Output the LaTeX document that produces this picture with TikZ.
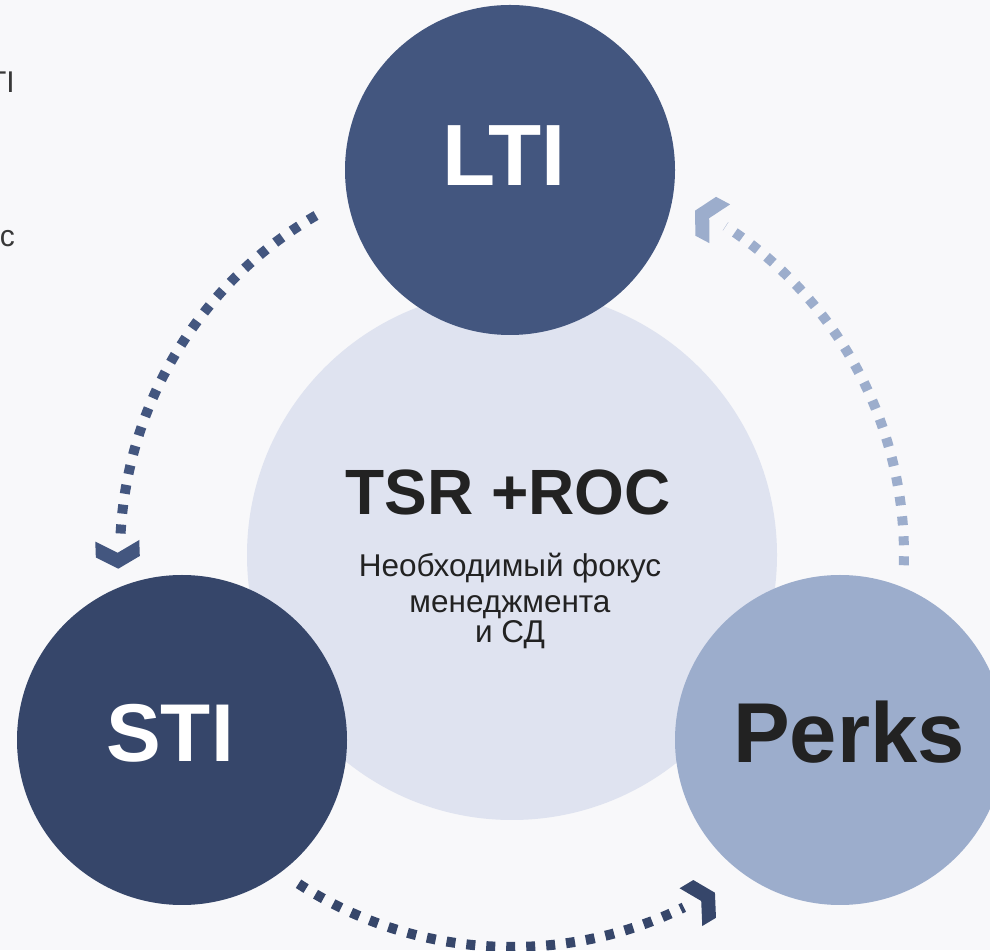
\documentclass[tikz,border=0pt]{standalone}
\usepackage{fontspec}
\setmainfont{Liberation Sans}
\usetikzlibrary{calc}
\definecolor{bgc}{RGB}{248,248,250}
\definecolor{corec}{RGB}{223,227,240}
\definecolor{ltic}{RGB}{67,86,127}
\definecolor{stic}{RGB}{54,70,106}
\definecolor{perksc}{RGB}{156,173,204}
\definecolor{txtc}{RGB}{34,34,34}
\newcommand\mychev[3]{\fill[#3, shift={(#1)}, rotate=#2] (0,0) -- (-12,22) -- (-28,22) -- (-16,0) -- (-28,-22) -- (-12,-22) -- cycle;}
\begin{document}
\begin{tikzpicture}[x=1pt,y=1pt,
  disc/.style={circle, inner sep=0pt, minimum size=330pt},
  bigt/.style={font=\fontsize{82}{82}\selectfont\bfseries, anchor=base, inner sep=0pt},
  bodyt/.style={font=\fontsize{31.5}{31.5}\selectfont, text=txtc, anchor=base, inner sep=0pt},
  dotarc/.style={line width=10pt, dash pattern=on 9pt off 11pt}]
\fill[bgc] (0,0) rectangle (990,950);
\useasboundingbox (0,0) rectangle (990,950);
\clip (0,0) rectangle (990,950);
% cut-off text at left
\node[font=\fontsize{30}{30}\selectfont, text=txtc!90, anchor=base east, inner sep=0pt] (f1) at (15,857) {TI};
\node[font=\fontsize{30}{30}\selectfont, text=txtc!90, anchor=base east, inner sep=0pt] (f2) at (15,703) {c};
% circles
\node[circle, inner sep=0pt, minimum size=530pt, fill=corec] (core) at (512,395) {};
\node[disc, fill=ltic] (lti) at (510,780) {};
\node[disc, fill=stic] (sti) at (182,210) {};
\node[disc, fill=perksc] (perks) at (840,210) {};
% labels
\node[bigt, font=\fontsize{87}{87}\selectfont\bfseries, text=white] (ltit) at (504,764) {LTI};
\node[bigt, text=white] (stit) at (170,188) {STI};
\node[bigt, font=\fontsize{85}{85}\selectfont\bfseries, text=txtc] (perkst) at (849,187) {Perks};
\node[font=\fontsize{64}{64}\selectfont\bfseries, text=txtc, anchor=base, inner sep=0pt] (tsr) at (508,435) {TSR +ROC};
\node[bodyt] (b1) at (510,373) {Необходимый фокус};
\node[bodyt] (b2) at (510,337) {менеджмента};
\node[bodyt] (b3) at (510,307) {и СД};
% arcs
\draw[dotarc, ltic] ($(core.center)+(120:392)$) arc[start angle=120, end angle=177, radius=392];
\mychev{$(core.center)+(182:394)$}{272}{ltic}
\draw[dotarc, stic] ($(core.center)+(237:392)$) arc[start angle=237, end angle=296, radius=392];
\mychev{$(core.center)+(301:394)$}{31}{stic}
\draw[dotarc, perksc] ($(core.center)+(-1.5:392)$) arc[start angle=-1.5, end angle=57, radius=392];
\mychev{$(core.center)+(62:390)$}{152}{perksc}
\end{tikzpicture}
\end{document}
